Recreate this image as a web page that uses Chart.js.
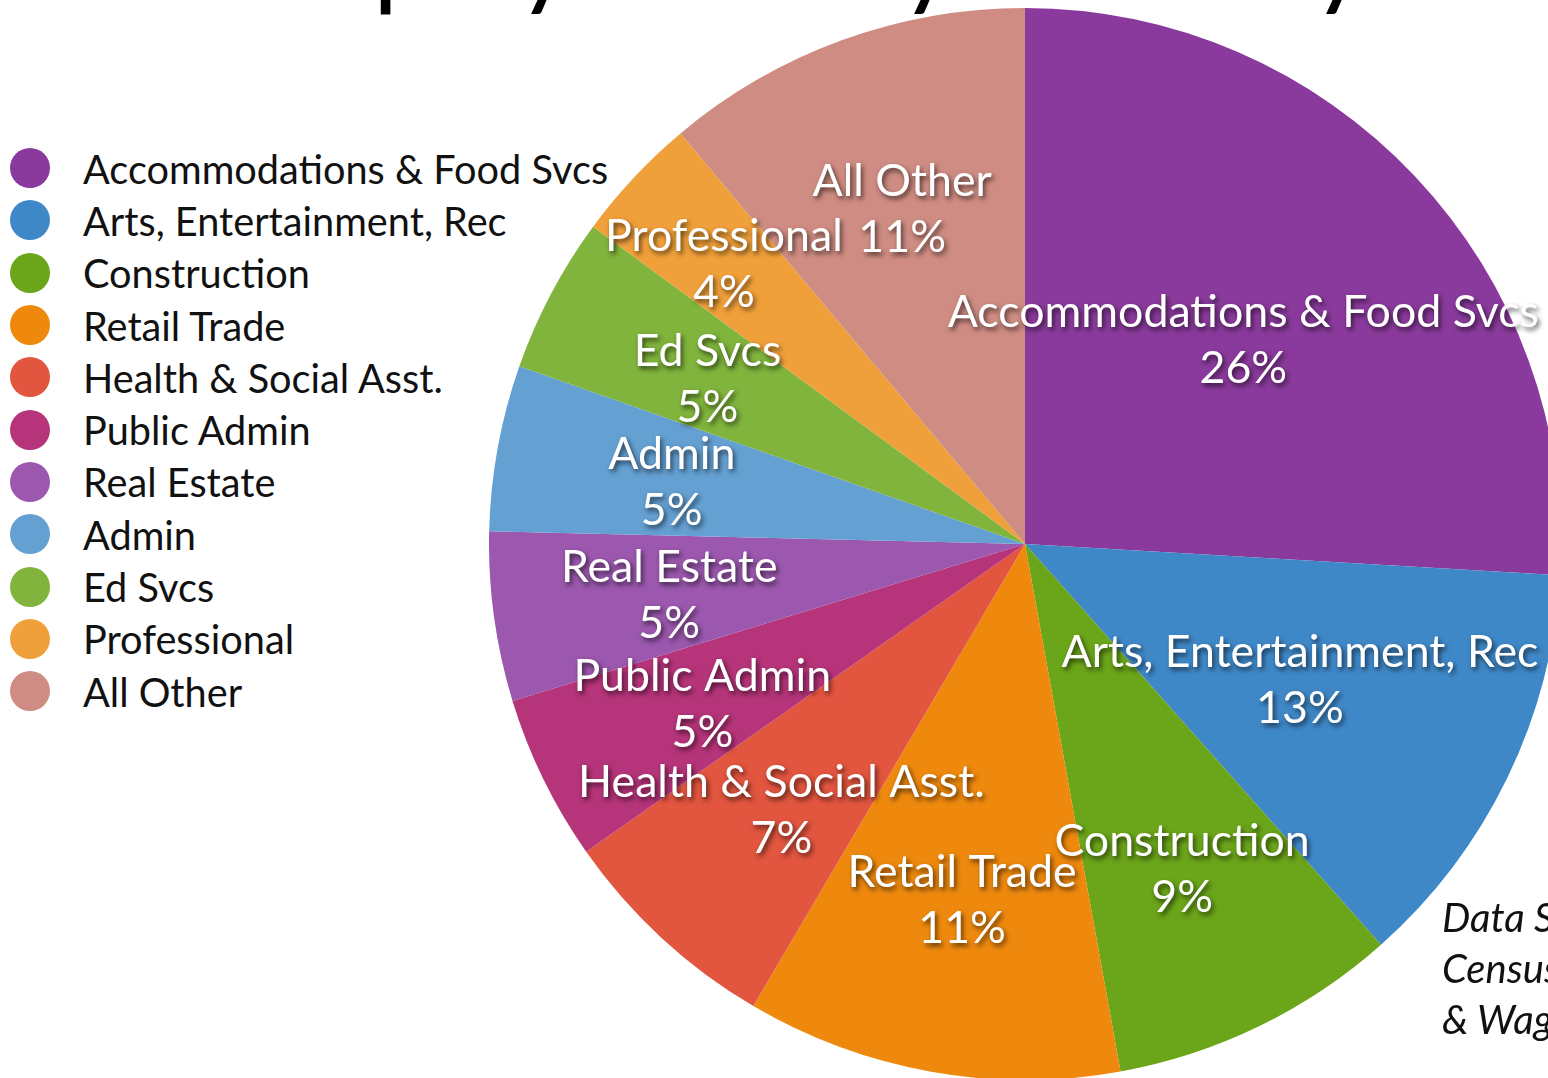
<!DOCTYPE html>
<html>
<head>
<meta charset="utf-8">
<script src="https://cdn.jsdelivr.net/npm/chart.js@4"></script>
<style>
  html, body { margin: 0; padding: 0; background: #fff; }
  body { width: 1548px; height: 1078px; overflow: hidden; position: relative; font-family: Lato, "Open Sans", sans-serif; }
  #title { position: absolute; left: 225px; top: -99px; font-size: 107px; line-height: 107px; color: #000; white-space: nowrap; }
  #pieBox { position: absolute; left: 489px; top: 8px; width: 1072px; height: 1072px; }
  #legend { position: absolute; left: 10px; top: 142px; margin: 0; padding: 0; list-style: none; }
  #legend li { height: 52.3px; display: flex; align-items: center; font-size: 39.7px; color: #111; white-space: nowrap; }
  #legend .dot { width: 40px; height: 40px; border-radius: 50%; margin-right: 33px; flex: none; }
  #source { position: absolute; left: 1442px; top: 892px; font-size: 40px; line-height: 51px; font-style: italic; color: #111; white-space: nowrap; }
</style>
</head>
<body>
<div id="title">Employment by Industry</div>
<ul id="legend"></ul>
<div id="pieBox"><canvas id="myChart" width="1072" height="1072"></canvas></div>
<div id="source">Data Source: Quarterly<br>Census of Employment<br>&amp; Wages</div>
<script>
// industries, clockwise from 12 o'clock
const industries = [
  'Accommodations & Food Svcs',
  'Arts, Entertainment, Rec',
  'Construction',
  'Retail Trade',
  'Health & Social Asst.',
  'Public Admin',
  'Real Estate',
  'Admin',
  'Ed Svcs',
  'Professional',
  'All Other'
];
// share of employment (%)
const shares = [25.9, 12.5, 8.7, 11.3, 6.8, 5.0, 5.1, 5.0, 4.7, 3.8, 11.1];
const sliceColors = [
  '#8a3a9c', '#3f88c8', '#6ba51a', '#ee890e', '#e2553f', '#b6347a',
  '#9b58ae', '#64a0d2', '#80b43c', '#f0a03a', '#cf8c82'
];

// how far out each label sits (fraction of radius)
const labelRadius = [0.56, 0.57, 0.67, 0.67, 0.67, 0.67, 0.67, 0.67, 0.67, 0.77, 0.67];

const sliceLabels = {
  id: 'sliceLabels',
  afterDatasetsDraw(chart) {
    const ctx = chart.ctx;
    const meta = chart.getDatasetMeta(0);
    const data = chart.data.datasets[0].data;
    const total = data.reduce((a, b) => a + b, 0);
    ctx.save();
    ctx.font = '44.7px Lato, "Open Sans", sans-serif';
    ctx.textAlign = 'center';
    ctx.textBaseline = 'middle';
    ctx.fillStyle = '#fff';
    ctx.shadowColor = 'rgba(0,0,0,0.65)';
    ctx.shadowBlur = 5;
    ctx.shadowOffsetX = 2;
    ctx.shadowOffsetY = 3;
    meta.data.forEach((arc, i) => {
      const p = arc.getProps(['x', 'y', 'startAngle', 'endAngle', 'outerRadius'], true);
      const mid = (p.startAngle + p.endAngle) / 2;
      const r = p.outerRadius * labelRadius[i];
      const cx = p.x + Math.cos(mid) * r;
      const cy = p.y + Math.sin(mid) * r;
      const pct = Math.round(data[i] / total * 100) + '%';
      ctx.fillText(chart.data.labels[i], cx, cy - 25);
      ctx.fillText(pct, cx, cy + 31);
    });
    ctx.restore();
  }
};

const myChart = new Chart('myChart', {
  type: 'pie',
  data: {
    labels: industries,
    datasets: [{
      data: shares,
      backgroundColor: sliceColors,
      borderWidth: 0
    }]
  },
  options: {
    responsive: false,
    animation: false,
    layout: { padding: 0 },
    plugins: {
      legend: { display: false },
      tooltip: { enabled: false }
    }
  },
  plugins: [sliceLabels]
});

// html legend built from the chart's own labels
const legendEl = document.getElementById('legend');
myChart.options.plugins.legend.labels.generateLabels(myChart).forEach((item) => {
  const li = document.createElement('li');
  li.innerHTML = `<span class="dot" style="background:${item.fillStyle}"></span>${item.text}`;
  legendEl.appendChild(li);
});
</script>
</body>
</html>
